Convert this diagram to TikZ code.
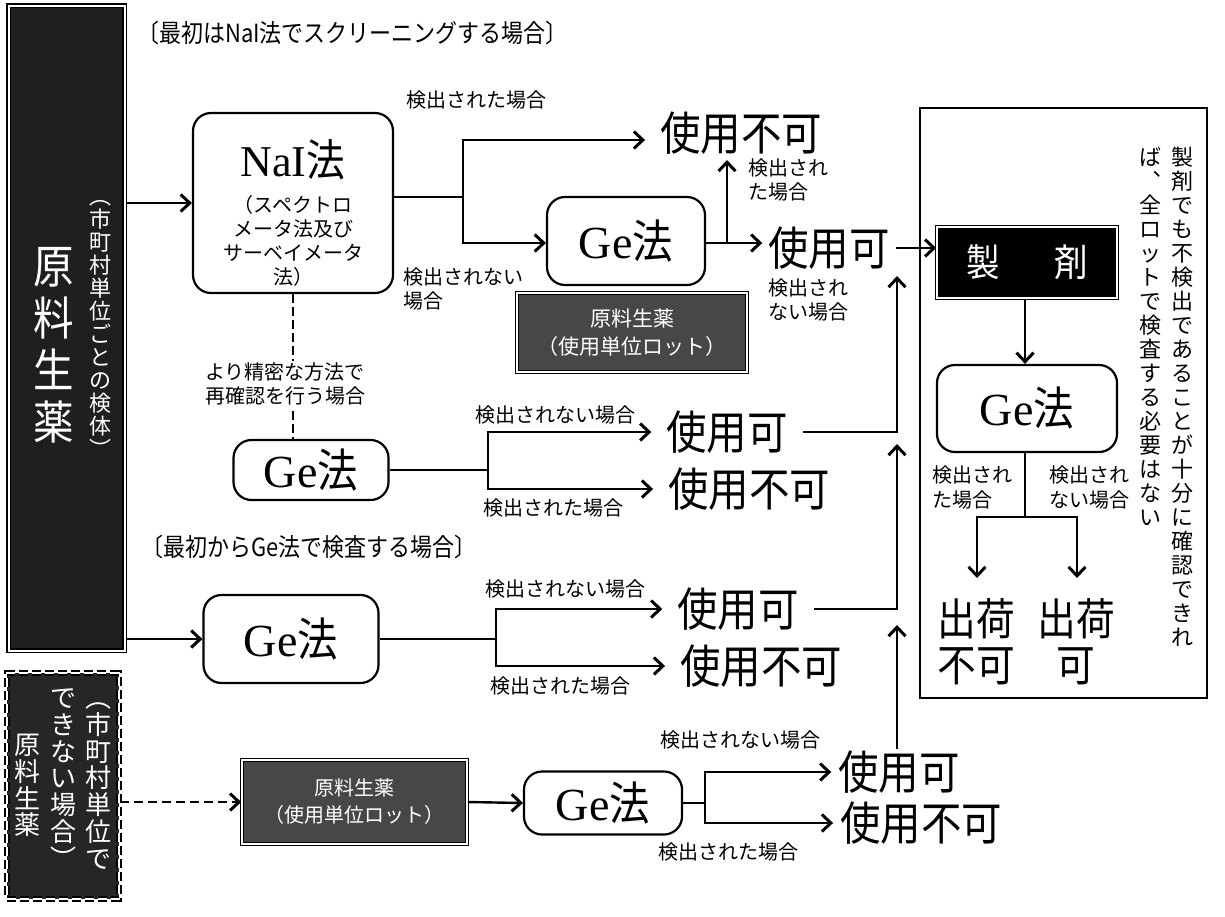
\documentclass[tikz,border=0pt]{standalone}
\usepackage{fontspec}
\setmainfont{Liberation Serif}
\newfontfamily\cjk{Noto Sans CJK JP}
\newfontfamily\cjkn[FakeStretch=0.88]{Noto Sans CJK JP}
\usetikzlibrary{arrows.meta}
\makeatletter
\newcommand\vstk[2]{\vbox{\offinterlineskip\def\vstk@step{#1}\vstk@a#2\relax}}
\def\vstk@a#1{\ifx\relax#1\else\hbox to 1em{\hss\vbox to \vstk@step{\vss\hbox{\vrule height .88em depth .12em width 0pt\relax #1}\vss}\hss}\expandafter\vstk@a\fi}
\makeatother
\begin{document}
\begin{tikzpicture}[x=1pt,y=-1pt,
  lnk/.style={line width=2.4pt},
  arr/.style={line width=2.4pt,-{Straight Barb[length=9pt,width=17pt,line width=3pt]}},
  rbox/.style={draw, line width=2.2pt, rounded corners=18pt, inner sep=0pt, font=\fontsize{46}{50}\selectfont},
  big/.style={font=\cjkn\fontsize{46}{50}\selectfont, inner sep=1pt, outer xsep=14pt},
  lbl/.style={font=\cjk\fontsize{20}{24}\selectfont, inner sep=0pt, align=center},
  ttl/.style={font=\cjkn\fontsize{25}{28}\selectfont, inner sep=0pt, anchor=west},
  dkbox/.style={draw=black, line width=1.6pt, double=white, double distance=1.6pt, fill=black!72, text=white, inner sep=0pt, align=center, font=\cjk\fontsize{21}{28}\selectfont},
  vcol/.style={text=white, inner sep=0pt, anchor=north},
]
\useasboundingbox (0,0) rectangle (1225,916);
\fill[white] (0,0) rectangle (1225,916);

% left source boxes
\node[dkbox, fill=black!88, minimum width=116, minimum height=645, anchor=north west] (lb) at (8,5) {};
\node[vcol, font=\cjk\fontsize{22}{22}\selectfont] (lbs) at (100,184) {\vstk{23pt}{︵市町村単位ごとの検体︶}};
\node[vcol, font=\cjkn\fontsize{46}{46}\selectfont] (lbb) at (54,240) {\vstk{52pt}{原料生薬}};

\node[draw=black, line width=2.2pt, double=white, double distance=1.5pt, dash pattern=on 9pt off 4pt, fill=black!85, minimum width=112, minimum height=226, anchor=north west] (db) at (6,672) {};
\node[vcol, font=\cjk\fontsize{26}{26}\selectfont] (dbc1) at (98,684) {\vstk{26.8pt}{︵市町村単位で}};
\node[vcol, font=\cjk\fontsize{26}{26}\selectfont] (dbc2) at (63,684) {\vstk{26.8pt}{できない場合︶}};
\node[vcol, font=\cjk\fontsize{26}{26}\selectfont] (dbc3) at (27,731) {\vstk{26.8pt}{原料生薬}};

% titles
\node[ttl] (t1) at (137,33) {〔最初はNaI法でスクリーニングする場合〕};
\node[ttl] (t2) at (141,547) {〔最初からGe法で検査する場合〕};

% row 1 : NaI
\node[rbox, minimum width=200, minimum height=180] (nai) at (293,203) {};
\node[font=\fontsize{44}{48}\selectfont, inner sep=0pt] (naiT) at (293,160) {NaI{\cjkn 法}};
\node[lbl, font=\cjk\fontsize{20}{24}\selectfont] (naiS) at (293,241) {（スペクトロ\\メータ法及び\\サーベイメータ\\法）};
\node[lbl] (l1a) at (476,100) {検出された場合};
\coordinate (j1) at (463,197);
\coordinate (j1u) at (463,140);
\coordinate (j1d) at (463,243);
\node[big] (nu1) at (741,133) {使用不可};
\node[rbox, minimum width=158, minimum height=88] (ge1) at (626,241) {Ge{\cjkn 法}};
\node[big, outer xsep=5pt] (ok1) at (829,248) {使用可};
\node[lbl, align=left, anchor=north west] (l1b) at (403,267) {検出されない\\場合};
\node[lbl, align=left] (l1c) at (788,180) {検出され\\た場合};
\node[lbl, align=left] (l1d) at (808,300) {検出され\\ない場合};
\coordinate (u1a) at (727,243);
\coordinate (u1b) at (727,160);
\node[dkbox, minimum width=230, minimum height=79] (dk1) at (632,332.5) {原料生薬\\（使用単位ロット）};

\draw[arr] (nai.west -| lb.east) -- (nai.west);
\draw[lnk] (nai.east |- j1) -- (j1);
\draw[arr] (j1) |- (nu1.west |- j1u);
\draw[arr] (j1) |- (ge1.west |- j1d);
\draw[arr] (ge1.east |- j1d) -- (ok1.west |- j1d);
\draw[arr] (u1a) -- (u1b);

% row 2
\node[rbox, minimum width=155, minimum height=60] (ge2) at (311,470) {Ge{\cjkn 法}};
\draw[lnk, dash pattern=on 9pt off 4pt] (nai.south) -- (nai.south |- ge2.north);
\node[lbl, fill=white, inner sep=2pt] (l2a) at (285,384) {より精密な方法で\\再確認を行う場合};
\coordinate (j2) at (488,470);
\node[big] (ok2) at (727,432) {使用可};
\node[big] (ng2) at (749,489) {使用不可};
\node[lbl] (l2b) at (555,415) {検出されない場合};
\node[lbl] (l2c) at (553,508) {検出された場合};
\draw[lnk] (ge2.east) -- (j2);
\draw[arr] (j2) |- (ok2.west);
\draw[arr] (j2) |- (ng2.west);

% row 3
\node[rbox, minimum width=175, minimum height=88] (ge3) at (291,639) {Ge{\cjkn 法}};
\coordinate (j3) at (496,639);
\node[big] (ok3) at (738,609) {使用可};
\node[big] (ng3) at (761,666) {使用不可};
\node[lbl] (l3a) at (565,589) {検出されない場合};
\node[lbl] (l3b) at (560,686) {検出された場合};
\draw[arr] (ge3.west -| lb.east) -- (ge3.west);
\draw[lnk] (ge3.east) -- (j3);
\draw[arr] (j3) |- (ok3.west);
\draw[arr] (j3) |- (ng3.west);

% row 4
\node[dkbox, minimum width=225, minimum height=84, font=\cjk\fontsize{20}{27}\selectfont] (dk2) at (354.5,802) {原料生薬\\（使用単位ロット）};
\node[rbox, minimum width=158, minimum height=63] (ge4) at (603,803) {Ge{\cjkn 法}};
\coordinate (j4) at (705,803);
\node[big, outer xsep=6pt] (ok4) at (899,772) {使用可};
\node[big, outer xsep=6pt] (ng4) at (921,823) {使用不可};
\node[lbl] (l4a) at (740,740) {検出されない場合};
\node[lbl] (l4b) at (728,852) {検出された場合};
\draw[arr, dash pattern=on 9pt off 5pt] (dk2.west -| db.east) -- (dk2.west);
\draw[arr] (dk2.east) -- (ge4.west);
\draw[lnk] (ge4.east) -- (j4);
\draw[arr] (j4) |- (ok4.west);
\draw[arr] (j4) |- (ng4.west);

% collecting line
\coordinate (v1) at (897,276);
\coordinate (v2) at (897,444);
\coordinate (v3) at (897,625);
\draw[arr] (ok2.east) -| (v1);
\draw[arr] (ok3.east) -| (v2);
\draw[arr] (ok4.north -| v3) -- (v3);

% right box
\node[draw, line width=1.4pt, minimum width=287, minimum height=590, inner sep=0pt] (rb) at (1063.5,403) {};
\node[draw=black, line width=1.6pt, double=white, double distance=1.4pt, fill=black, minimum width=180, minimum height=71, text=white, font=\cjkn\fontsize{38}{40}\selectfont] (sz) at (1027,262.5) {製\hspace{1.45em}剤};
\node[rbox, minimum width=180, minimum height=87] (ge5) at (1027,408.5) {Ge{\cjkn 法}};
\node[lbl, align=left, font=\cjk\fontsize{20}{25}\selectfont] (l5a) at (972,487) {検出され\\た場合};
\node[lbl, align=left, font=\cjk\fontsize{20}{25}\selectfont] (l5b) at (1089,487) {検出され\\ない場合};
\coordinate (j5) at (1025,517);
\coordinate (d5a) at (977,578);
\coordinate (d5b) at (1077,578);
\node[font=\cjkn\fontsize{44}{46}\selectfont, align=center, inner sep=0pt] (sh1) at (976,642) {出荷\\不可};
\node[font=\cjkn\fontsize{44}{46}\selectfont, align=center, inner sep=0pt] (sh2) at (1076,642) {出荷\\可};
\node[anchor=north, inner sep=0pt, font=\cjk\fontsize{22}{22}\selectfont] (vt1) at (1182,145) {\vstk{24pt}{製剤でも不検出であることが十分に確認できれ}};
\node[anchor=north, inner sep=0pt, font=\cjk\fontsize{22}{22}\selectfont] (vt2) at (1150,145) {\vstk{24pt}{ば︑全ロットで検査する必要はない}};

\draw[arr] (ok1.east) -- (sz.west |- ok1.east);
\draw[arr] (sz.south -| j5) -- (ge5.north -| j5);
\draw[lnk] (ge5.south -| j5) -- (j5);
\draw[arr] (j5) -| (d5a);
\draw[arr] (j5) -| (d5b);
\end{tikzpicture}
\end{document}
